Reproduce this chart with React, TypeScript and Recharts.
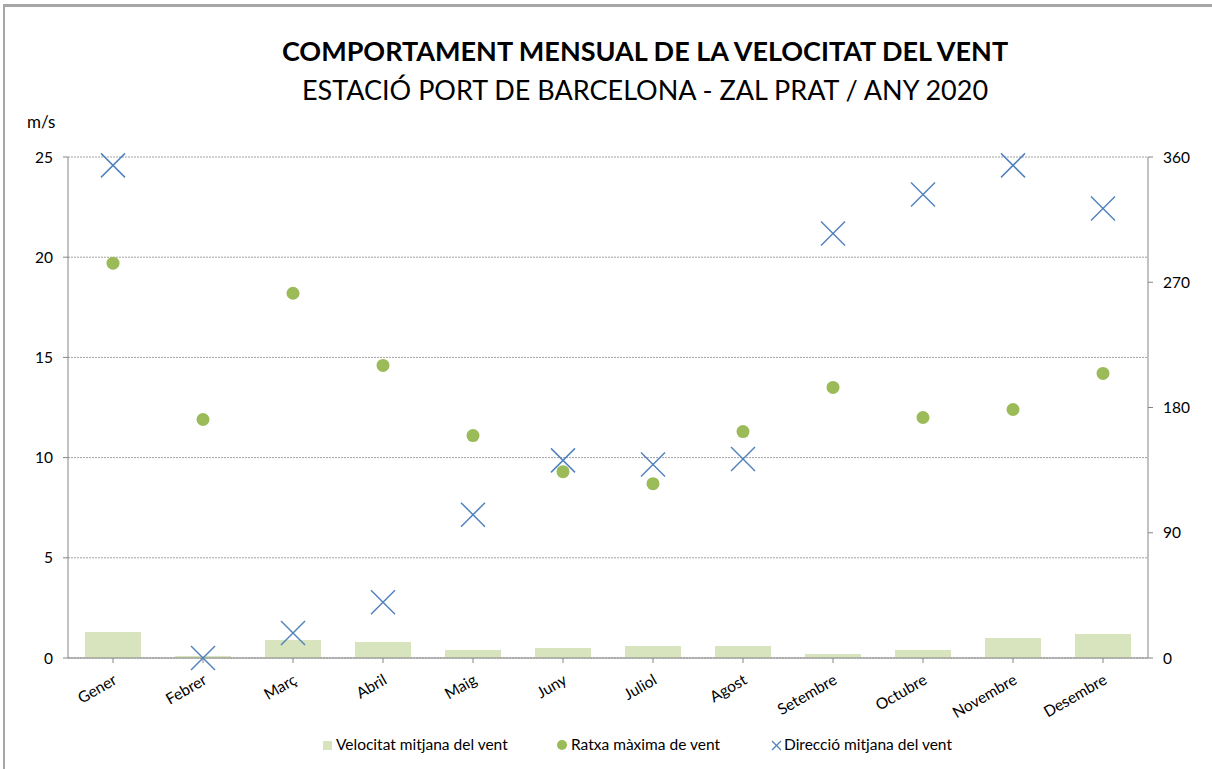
import React from 'react';
import { ComposedChart, Bar, Scatter, XAxis, YAxis, CartesianGrid } from 'recharts';

const months = ['Gener', 'Febrer', 'Març', 'Abril', 'Maig', 'Juny', 'Juliol', 'Agost', 'Setembre', 'Octubre', 'Novembre', 'Desembre'];
const meanSpeed = [1.3, 0.1, 0.9, 0.8, 0.4, 0.5, 0.6, 0.6, 0.2, 0.4, 1.0, 1.2];
const maxGust = [19.7, 11.9, 18.2, 14.6, 11.1, 9.3, 8.7, 11.3, 13.5, 12.0, 12.4, 14.2];
const meanDirection = [354, 0, 18, 40, 103, 142, 139, 143, 305, 333, 354, 323];
const leftTicks = [0, 5, 10, 15, 20, 25];
const rightTicks = [0, 90, 180, 270, 360];

const data = months.map((m, i) => ({ month: m, speed: meanSpeed[i], gust: maxGust[i], dir: meanDirection[i] }));

const FONT = 'Lato, "Open Sans", sans-serif';
const FS = 15.5;
const BAR = '#d7e4bd';
const GREEN = '#9bbb59';
const BLUE = '#4f81bd';
const AXIS = '#868686';

const Cross = (props: any) => {
  const { cx, cy } = props;
  if (cx == null || cy == null) return null;
  const s = 12;
  return (
    <g>
      <line x1={cx - s} y1={cy - s} x2={cx + s} y2={cy + s} stroke={BLUE} strokeWidth={1.5} />
      <line x1={cx - s} y1={cy + s} x2={cx + s} y2={cy - s} stroke={BLUE} strokeWidth={1.5} />
    </g>
  );
};

const Dot = (props: any) => {
  const { cx, cy } = props;
  if (cx == null || cy == null) return null;
  return <circle cx={cx} cy={cy} r={6.5} fill={GREEN} />;
};

const MonthTick = (props: any) => {
  const { x, y, payload } = props;
  const tx = x + 5;
  const ty = y + 18;
  return (
    <text x={tx} y={ty} textAnchor="end" fontFamily={FONT} fontSize={FS} fill="#000" transform={`rotate(-30, ${tx}, ${ty})`}>
      {payload.value}
    </text>
  );
};

export default function App() {
  return (
    <div style={{ position: 'absolute', left: 0, top: 0, width: 1212, height: 769, overflow: 'hidden', background: '#fff', fontFamily: FONT }}>
      <div style={{ position: 'absolute', left: 3, top: 4, width: 1300, height: 900, borderTop: '3px solid #a6a6a6', borderLeft: '2px solid #a6a6a6' }} />
      <div style={{ position: 'absolute', left: 0, width: 1290, top: 35, textAlign: 'center', fontWeight: 700, fontSize: 27, lineHeight: '32px', color: '#000', whiteSpace: 'nowrap' }}>
        COMPORTAMENT MENSUAL DE LA VELOCITAT DEL VENT
      </div>
      <div style={{ position: 'absolute', left: 0, width: 1290, top: 74, textAlign: 'center', fontWeight: 400, fontSize: 27, lineHeight: '32px', color: '#000', whiteSpace: 'nowrap' }}>
        ESTACIÓ PORT DE BARCELONA - ZAL PRAT / ANY 2020
      </div>
      <div style={{ position: 'absolute', left: 27, top: 111, fontSize: 17, color: '#000' }}>m/s</div>
      <div style={{ position: 'absolute', left: 0, top: 0 }}>
        <ComposedChart width={1212} height={769} data={data} margin={{ top: 157, right: 4, bottom: 31, left: 8 }}>
          <CartesianGrid yAxisId="left" vertical={false} stroke="#a0a0a0" strokeDasharray="2 1" />
          <XAxis
            dataKey="month"
            interval={0}
            height={80}
            tick={<MonthTick />}
            tickLine={{ stroke: AXIS }}
            axisLine={{ stroke: AXIS }}
            tickSize={5}
          />
          <YAxis
            yAxisId="left"
            orientation="left"
            width={60}
            domain={[0, 25]}
            ticks={leftTicks}
            interval={0}
            tickSize={5}
            tickMargin={10}
            axisLine={{ stroke: AXIS }}
            tickLine={{ stroke: AXIS }}
            tick={{ fill: '#000', fontSize: FS, fontFamily: FONT }}
          />
          <YAxis
            yAxisId="right"
            orientation="right"
            width={60}
            domain={[0, 360]}
            ticks={rightTicks}
            interval={0}
            tickSize={5}
            tickMargin={10}
            axisLine={{ stroke: AXIS }}
            tickLine={{ stroke: AXIS }}
            tick={{ fill: '#000', fontSize: FS, fontFamily: FONT }}
          />
          <Bar yAxisId="left" dataKey="speed" fill={BAR} barSize={56} isAnimationActive={false} />
          <Scatter yAxisId="left" dataKey="gust" shape={<Dot />} isAnimationActive={false} />
          <Scatter yAxisId="right" dataKey="dir" shape={<Cross />} isAnimationActive={false} />
        </ComposedChart>
      </div>
      <div style={{ position: 'absolute', top: 735, left: 0, width: 1212, height: 20, fontSize: FS, color: '#000' }}>
        <div style={{ position: 'absolute', left: 323, top: 6, width: 9, height: 9, background: BAR }} />
        <div style={{ position: 'absolute', left: 336, top: 0, whiteSpace: 'nowrap' }}>Velocitat mitjana del vent</div>
        <div style={{ position: 'absolute', left: 557, top: 5, width: 10, height: 10, borderRadius: 5, background: GREEN }} />
        <div style={{ position: 'absolute', left: 571, top: 0, whiteSpace: 'nowrap' }}>Ratxa màxima de vent</div>
        <svg style={{ position: 'absolute', left: 771, top: 5 }} width={11} height={11}>
          <line x1={1} y1={1} x2={10} y2={10} stroke={BLUE} strokeWidth={1.2} />
          <line x1={1} y1={10} x2={10} y2={1} stroke={BLUE} strokeWidth={1.2} />
        </svg>
        <div style={{ position: 'absolute', left: 784, top: 0, whiteSpace: 'nowrap' }}>Direcció mitjana del vent</div>
      </div>
    </div>
  );
}
